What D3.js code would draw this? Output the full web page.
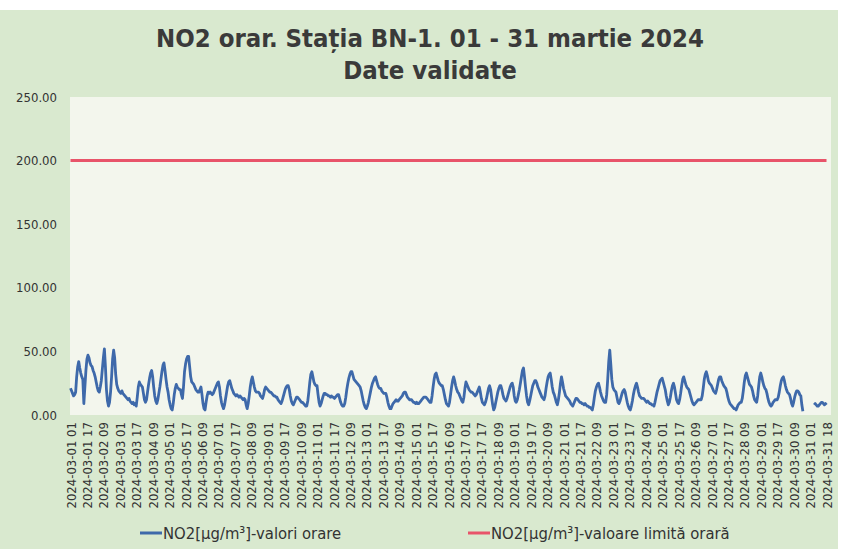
<!DOCTYPE html>
<html>
<head>
<meta charset="utf-8">
<script src="https://cdn.jsdelivr.net/npm/d3@7"></script>
<style>
  body { margin: 0; background: #ffffff; }
  svg { display: block; }
</style>
</head>
<body>
<div id="vizcont"></div>
<script>
// chart texts
var titleLines = ["NO2 orar. Stația BN-1. 01 - 31 martie 2024", "Date validate"];
var seriesNames = ["NO2[µg/m³]-valori orare", "NO2[µg/m³]-valoare limită orară"];

// hourly values, 2024-03-01 01 ... 2024-03-31 18 (one row = 16 hours)
var no2Hourly = [
  21,19,17,15,16,18,30,38,42,37,33,30,28,9,22,35,
  44,47,45,41,39,38,35,33,30,26,22,19,18,22,27,36,
  45,52,38,20,11,7,10,18,30,44,51,45,32,24,21,19,
  18,17,19,17,16,15,14,13,12,13,11,10,9,10,8,9,
  7,14,22,26,24,23,22,17,12,10,12,18,24,29,33,35,
  30,22,15,11,9,12,17,22,28,34,39,41,35,28,22,18,
  12,8,5,4,9,16,21,24,22,21,20,20,16,13,22,34,
  40,44,46,46,38,30,26,25,24,22,20,19,18,18,20,22,
  16,9,5,4,10,15,18,17,18,17,16,17,19,21,23,25,
  26,22,15,10,7,5,8,13,18,23,26,27,24,21,19,17,
  16,15,16,15,14,15,14,13,12,13,12,8,5,9,15,22,
  27,30,26,22,19,18,18,18,17,15,14,13,16,20,22,21,
  20,19,18,18,17,16,15,15,14,14,12,11,10,9,11,14,
  17,20,22,23,23,20,15,11,9,8,10,12,14,14,13,12,
  11,10,10,9,8,7,7,11,18,26,32,34,30,26,24,23,
  23,16,10,7,9,12,15,17,17,16,16,15,15,14,15,14,
  14,13,14,15,16,16,13,10,8,7,7,9,14,20,25,29,
  32,34,34,31,28,27,26,25,24,23,22,19,15,11,8,6,
  5,7,10,14,18,22,25,27,29,30,27,24,22,21,21,19,
  18,17,17,17,14,10,7,5,5,7,9,10,11,12,11,11,
  12,13,14,15,17,18,18,16,14,13,12,12,12,11,10,10,
  9,10,9,9,10,11,12,13,14,14,14,13,12,11,10,10,
  15,22,28,32,33,30,27,25,24,23,23,20,16,12,9,8,
  7,10,16,22,27,30,27,23,20,18,17,15,13,11,10,14,
  21,26,24,22,20,19,18,18,17,16,15,16,18,20,22,18,
  13,10,9,8,10,13,17,21,23,20,14,8,4,6,10,14,
  18,21,23,23,20,16,13,12,11,13,16,19,22,24,25,22,
  15,11,10,12,16,20,25,30,35,37,30,22,15,10,8,11,
  15,19,23,25,27,27,25,22,20,18,16,14,13,12,15,21,
  26,30,32,33,28,22,18,16,13,10,8,12,18,25,30,26,
  21,18,15,14,13,12,11,9,8,7,9,11,13,13,12,11,
  10,10,9,9,8,9,8,7,7,6,6,5,4,8,14,19,
  22,24,25,22,18,15,13,11,10,10,16,28,42,51,40,28,
  22,20,19,18,14,10,9,11,14,17,19,20,18,14,10,7,
  5,4,7,11,16,20,23,25,22,18,15,14,13,13,13,12,
  11,10,11,10,9,9,8,8,7,10,14,18,21,24,27,28,
  29,26,23,20,15,11,8,10,14,19,23,25,22,17,12,10,
  9,12,17,23,28,30,27,24,22,21,20,17,14,11,9,8,
  9,10,11,12,12,12,12,15,21,28,32,34,31,27,25,24,
  23,21,19,18,17,20,24,28,30,30,27,25,23,22,21,18,
  14,11,9,8,7,6,5,5,4,6,8,9,10,10,13,19,
  26,31,33,30,27,24,23,22,19,15,12,11,10,15,23,30,
  33,30,26,23,21,20,17,13,10,8,7,8,10,11,12,12,
  12,14,18,23,27,29,30,27,23,20,18,17,16,13,9,7,
  10,14,17,19,19,18,16,15,8,3,null,null,null,null,null,null,
  null,null,null,null,8,9,8,7,7,8,9,10,10,9,8,9,
  8
];

// hourly limit value
var limitValue = 200;

// y axis ticks
var yTicks = [0, 50, 100, 150, 200, 250];

// x axis labels, one every 16 hours
var xTickLabels = [
  "2024-03-01 01", "2024-03-01 17", "2024-03-02 09", "2024-03-03 01", "2024-03-03 17",
  "2024-03-04 09", "2024-03-05 01", "2024-03-05 17", "2024-03-06 09", "2024-03-07 01",
  "2024-03-07 17", "2024-03-08 09", "2024-03-09 01", "2024-03-09 17", "2024-03-10 09",
  "2024-03-11 01", "2024-03-11 17", "2024-03-12 09", "2024-03-13 01", "2024-03-13 17",
  "2024-03-14 09", "2024-03-15 01", "2024-03-15 17", "2024-03-16 09", "2024-03-17 01",
  "2024-03-17 17", "2024-03-18 09", "2024-03-19 01", "2024-03-19 17", "2024-03-20 09",
  "2024-03-21 01", "2024-03-21 17", "2024-03-22 09", "2024-03-23 01", "2024-03-23 17",
  "2024-03-24 09", "2024-03-25 01", "2024-03-25 17", "2024-03-26 09", "2024-03-27 01",
  "2024-03-27 17", "2024-03-28 09", "2024-03-29 01", "2024-03-29 17", "2024-03-30 09",
  "2024-03-31 01", "2024-03-31 18"
];
var labelStep = 16;

var fontFam = "'DejaVu Sans Condensed', 'Noto Sans', sans-serif";

var W = 841, H = 549;
var plot = {left: 70, right: 831, top: 97, bottom: 415};

var svg = d3.select("#vizcont")
    .append("svg")
    .attr("width", W)
    .attr("height", H);

// chart background
svg.append("rect")
    .attr("x", 0).attr("y", 10)
    .attr("width", 838).attr("height", H - 10)
    .style("fill", "#d9e9cf");

// plot area
svg.append("rect")
    .attr("x", plot.left).attr("y", plot.top)
    .attr("width", plot.right - plot.left).attr("height", plot.bottom - plot.top)
    .style("fill", "#f3f6ed");

// scales
var x = d3.scaleLinear()
    .domain([0, no2Hourly.length - 1])
    .range([plot.left + 0.5, plot.right - 4.5]);
var y = d3.scaleLinear()
    .domain([0, 250])
    .range([plot.bottom, plot.top]);

// title
svg.append("g").selectAll("text")
    .data(titleLines)
    .enter().append("text")
    .attr("x", 430)
    .attr("y", function(d, i) { return 47 + i * 32; })
    .attr("text-anchor", "middle")
    .style("font-family", fontFam)
    .style("font-weight", "bold")
    .style("font-size", "25.5px")
    .style("fill", "#3a3a3a")
    .text(function(d) { return d; });

// y axis
var yAxis = svg.append("g")
    .attr("transform", "translate(" + plot.left + ",0)")
    .call(d3.axisLeft(y).tickValues(yTicks).tickSize(0).tickPadding(13)
        .tickFormat(function(d) { return d3.format(".2f")(d); }));
yAxis.select(".domain").remove();
yAxis.selectAll("text")
    .style("font-family", fontFam)
    .style("font-size", "13px")
    .style("fill", "#333333");

// x axis with rotated labels
var xAxis = svg.append("g")
    .attr("transform", "translate(0," + plot.bottom + ")")
    .call(d3.axisBottom(x)
        .tickValues(xTickLabels.map(function(d, i) { return i * labelStep; }))
        .tickSize(0)
        .tickFormat(function(d) { return xTickLabels[d / labelStep]; }));
xAxis.select(".domain").remove();
xAxis.selectAll("text")
    .attr("transform", "rotate(-90)")
    .attr("x", -7)
    .attr("y", 0)
    .attr("dy", "0.35em")
    .attr("text-anchor", "end")
    .style("font-family", fontFam)
    .style("font-size", "13px")
    .style("fill", "#333333");

// limit line
var limitLine = d3.line()
    .x(function(d, i) { return x(i); })
    .y(function() { return y(limitValue); });
svg.append("path")
    .datum(no2Hourly)
    .attr("d", limitLine)
    .style("fill", "none")
    .style("stroke", "#e8546a")
    .style("stroke-width", 3);

// hourly values
var valueLine = d3.line()
    .defined(function(d) { return d !== null; })
    .x(function(d, i) { return x(i); })
    .y(function(d) { return y(d); });
svg.append("path")
    .datum(no2Hourly)
    .attr("d", valueLine)
    .style("fill", "none")
    .style("stroke", "#3e69aa")
    .style("stroke-width", 2.8)
    .style("stroke-linejoin", "round");

// legend
var legendItems = [
  {name: seriesNames[0], color: "#3e69aa", x: 140},
  {name: seriesNames[1], color: "#e8546a", x: 468}
];
var lg = svg.append("g").selectAll("g")
    .data(legendItems)
    .enter().append("g")
    .attr("transform", function(d) { return "translate(" + d.x + ",533)"; });
lg.append("line")
    .attr("x1", 0).attr("x2", 22)
    .style("stroke", function(d) { return d.color; })
    .style("stroke-width", 3);
lg.append("text")
    .attr("x", 23)
    .attr("dy", "0.35em")
    .style("font-family", fontFam)
    .style("font-size", "16.5px")
    .style("fill", "#333333")
    .text(function(d) { return d.name; });
</script>
</body>
</html>
